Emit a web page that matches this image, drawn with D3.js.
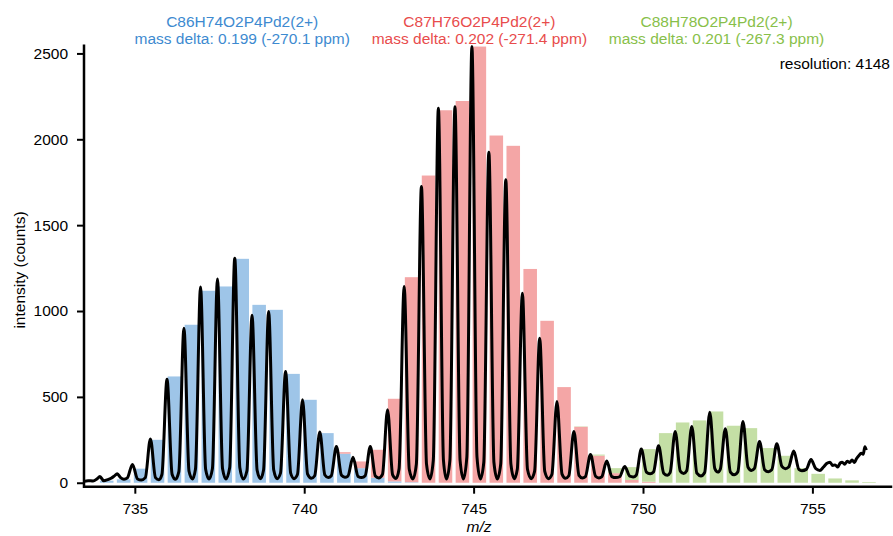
<!DOCTYPE html>
<html>
<head>
<meta charset="utf-8">
<script src="https://cdn.jsdelivr.net/npm/d3@7"></script>
<style>
  body { margin: 0; background: #fff; }
  svg text { font-family: "Liberation Sans", Arial, Helvetica, sans-serif; }
</style>
</head>
<body>
<div id="chart"></div>
<script>
// Isotope pattern bars (m/z of each bar, 2+ so ~0.5 apart)
const barMz = [734.17, 734.67, 735.17, 735.67, 736.17, 736.67, 737.17, 737.67, 738.17, 738.67,
  739.17, 739.67, 740.17, 740.67, 741.17, 741.67, 742.17, 742.67, 743.17, 743.67,
  744.17, 744.67, 745.17, 745.67, 746.17, 746.67, 747.17, 747.67, 748.17, 748.67,
  749.17, 749.67, 750.17, 750.67, 751.17, 751.67, 752.17, 752.67, 753.17, 753.67,
  754.17, 754.67, 755.17, 755.67, 756.17, 756.67];

// fitted counts per formula (stacked blue -> red -> green)
const blueCounts = [12, 20, 82, 250, 619, 920, 1118, 1143, 1304, 1036,
  1007, 634, 483, 289, 169, 85, 29, 8, 3, 0,
  0, 0, 0, 0, 0, 0, 0, 0, 0, 0,
  0, 0, 0, 0, 0, 0, 0, 0, 0, 0,
  0, 0, 0, 0, 0, 0];
const redCounts = [0, 0, 0, 0, 0, 0, 0, 0, 0, 0,
  0, 0, 0, 0, 9, 39, 163, 481, 1194, 1789,
  2169, 2223, 2540, 2022, 1962, 1245, 943, 557, 326, 158,
  56, 16, 6, 0, 0, 0, 0, 0, 0, 0,
  0, 0, 0, 0, 0, 0];
const greenCounts = [0, 0, 0, 0, 0, 0, 0, 0, 0, 0,
  0, 0, 0, 0, 0, 0, 0, 0, 0, 0,
  0, 0, 0, 0, 0, 0, 0, 0, 2, 6,
  29, 75, 190, 289, 351, 363, 415, 332, 318, 202,
  157, 85, 52, 25, 14, 4];

// measured profile spectrum [m/z, counts]
const spectrum = [
  [733.50, 8], [733.62, 12], [733.77, 10], [733.88, 22], [733.97, 36], [734.08, 12],
  [734.20, 18], [734.30, 26], [734.40, 40], [734.48, 52], [734.58, 30], [734.68, 20],
  [734.78, 28], [734.93, 107], [735.08, 22], [735.19, 16],
  [735.31, 30], [735.46, 255], [735.61, 30], [735.71, 18],
  [735.80, 48], [735.95, 603], [736.10, 50], [736.20, 20],
  [736.30, 65], [736.45, 900], [736.60, 67], [736.70, 22],
  [736.79, 79], [736.94, 1140], [737.09, 79], [737.19, 22],
  [737.29, 81], [737.44, 1187], [737.59, 81], [737.69, 22],
  [737.80, 87], [737.95, 1308], [738.10, 87], [738.20, 22],
  [738.31, 71], [738.46, 975], [738.61, 73], [738.71, 24],
  [738.80, 74], [738.95, 997], [739.10, 74], [739.20, 24],
  [739.30, 56], [739.45, 648], [739.60, 56], [739.70, 24],
  [739.80, 48], [739.95, 483], [740.10, 50], [740.21, 26],
  [740.31, 41], [740.46, 295], [740.61, 45], [740.71, 30],
  [740.80, 41], [740.95, 211], [741.10, 43], [741.20, 32],
  [741.29, 39], [741.44, 148], [741.59, 37], [741.70, 30],
  [741.80, 41], [741.95, 211], [742.10, 39], [742.20, 28],
  [742.31, 49], [742.46, 425], [742.61, 46], [742.71, 25],
  [742.80, 82], [742.95, 1143], [743.10, 79], [743.21, 22],
  [743.31, 108], [743.46, 1725], [743.61, 108], [743.71, 22],
  [743.81, 131], [743.96, 2181], [744.11, 131], [744.20, 22],
  [744.30, 132], [744.45, 2190], [744.60, 132], [744.70, 22],
  [744.80, 149], [744.95, 2540], [745.10, 149], [745.20, 22],
  [745.30, 118], [745.45, 1925], [745.60, 118], [745.70, 22],
  [745.80, 110], [745.95, 1764], [746.10, 110], [746.20, 24],
  [746.29, 79], [746.44, 1104], [746.59, 79], [746.70, 24],
  [746.80, 66], [746.95, 842], [747.10, 66], [747.21, 24],
  [747.31, 48], [747.46, 473], [747.61, 50], [747.71, 26],
  [747.81, 41], [747.96, 299], [748.11, 43], [748.21, 28],
  [748.30, 36], [748.45, 165], [748.60, 38], [748.70, 28],
  [748.78, 34], [748.93, 126], [749.08, 36], [749.20, 30],
  [749.31, 35], [749.46, 95], [749.61, 38], [749.71, 34],
  [749.80, 44], [749.95, 196], [750.10, 62], [750.21, 52],
  [750.31, 63], [750.46, 215], [750.61, 56], [750.72, 44],
  [750.80, 59], [750.95, 299], [751.10, 68], [751.20, 54],
  [751.29, 70], [751.44, 328], [751.59, 56], [751.71, 40],
  [751.82, 60], [751.97, 411], [752.12, 82], [752.21, 62],
  [752.28, 78], [752.43, 314], [752.58, 62], [752.69, 46],
  [752.80, 64], [752.95, 357], [753.10, 90], [753.20, 72],
  [753.29, 84], [753.44, 240], [753.59, 76], [753.70, 64],
  [753.80, 75], [753.95, 227], [754.10, 95], [754.20, 82],
  [754.30, 92], [754.45, 185], [754.60, 78], [754.69, 70],
  [754.82, 78], [754.96, 135], [755.10, 82], [755.22, 72],
  [755.32, 90], [755.42, 112], [755.52, 120], [755.60, 100], [755.67, 104],
  [755.75, 92], [755.82, 115], [755.88, 120], [755.95, 108], [756.03, 125],
  [756.10, 118], [756.17, 132], [756.24, 118], [756.30, 140], [756.37, 158],
  [756.44, 172], [756.50, 166], [756.55, 210], [756.59, 190]
];

const seriesKeys = ["blue", "red", "green"];
const seriesColors = ["#3d8ad0", "#e84c4c", "#88bf4a"];
const formulas = ["C86H74O2P4Pd2(2+)", "C87H76O2P4Pd2(2+)", "C88H78O2P4Pd2(2+)"];
const massDeltas = ["mass delta: 0.199 (-270.1 ppm)", "mass delta: 0.202 (-271.4 ppm)", "mass delta: 0.201 (-267.3 ppm)"];
const resolutionText = "resolution: 4148";
const xTicks = [735, 740, 745, 750, 755];
const yTicks = [0, 500, 1000, 1500, 2000, 2500];

// Dimensions
const W = 893, H = 536;
const plotLeft = 84, plotRight = 891, plotTop = 45.7, plotBottom = 486.7;
const fontSize = 15.5;

const svg = d3.select("#chart")
  .append("svg")
  .attr("width", W)
  .attr("height", H);

// Scales
const x = d3.scaleLinear().domain([733.5, 757.32]).range([plotLeft, plotRight]);
const y = d3.scaleLinear().domain([-23, 2545]).range([plotBottom, plotTop]);

// Stacked bars
const rows = barMz.map((mz, i) => ({ mz: mz, blue: blueCounts[i], red: redCounts[i], green: greenCounts[i] }));
const stacked = d3.stack().keys(seriesKeys)(rows);
const color = d3.scaleOrdinal().domain(seriesKeys).range(seriesColors);
const halfBar = 0.2;

stacked.forEach(layer => {
  svg.append("g")
    .selectAll("rect")
    .data(layer.filter(d => d[1] > d[0]))
    .enter()
    .append("rect")
    .attr("x", d => x(d.data.mz - halfBar))
    .attr("width", d => x(d.data.mz + halfBar) - x(d.data.mz - halfBar))
    .attr("y", d => y(d[1]))
    .attr("height", d => y(d[0]) - y(d[1]))
    .attr("fill", d3.interpolateRgb("#ffffff", color(layer.key))(0.5));
});

// Spectrum line
const line = d3.line()
  .x(d => x(d[0]))
  .y(d => y(d[1]))
  .curve(d3.curveMonotoneX);

svg.append("path")
  .datum(spectrum)
  .attr("fill", "none")
  .attr("stroke", "#000")
  .attr("stroke-width", 3)
  .attr("stroke-linejoin", "round")
  .attr("d", line);

// Axes
const yAxis = svg.append("g")
  .attr("transform", `translate(${plotLeft},0)`)
  .call(d3.axisLeft(y).tickValues(yTicks).tickFormat(d3.format("d"))
    .tickSize(7).tickPadding(9).tickSizeOuter(0));
const xAxis = svg.append("g")
  .attr("transform", `translate(0,${plotBottom})`)
  .call(d3.axisBottom(x).tickValues(xTicks).tickFormat(d3.format("d"))
    .tickSize(7).tickPadding(9).tickSizeOuter(0));

[xAxis, yAxis].forEach(g => {
  g.select(".domain").remove();
  g.selectAll(".tick line").attr("stroke", "#000").attr("stroke-width", 2);
  g.selectAll(".tick text")
    .attr("fill", "#000")
    .style("font-size", fontSize + "px")
    .style("font-family", '"Liberation Sans", Arial, sans-serif');
});

// spines
svg.append("path")
  .attr("d", `M${plotLeft},${plotTop}V${plotBottom}H${plotRight}`)
  .attr("fill", "none")
  .attr("stroke", "#000")
  .attr("stroke-width", 2.5)
  .attr("stroke-linecap", "square");

// Axis labels
svg.append("text")
  .attr("transform", `translate(25,270) rotate(-90)`)
  .attr("text-anchor", "middle")
  .style("font-size", fontSize + "px")
  .attr("fill", "#000")
  .text("intensity (counts)");

svg.append("text")
  .attr("x", 479)
  .attr("y", 531.5)
  .attr("text-anchor", "middle")
  .style("font-size", fontSize + "px")
  .style("font-style", "italic")
  .attr("fill", "#000")
  .text("m/z");

// Formula labels above the tallest bar of each pattern
const seriesCounts = [blueCounts, redCounts, greenCounts];
seriesCounts.forEach((counts, i) => {
  const peakMz = barMz[d3.maxIndex(counts)];
  const label = svg.append("text")
    .attr("text-anchor", "middle")
    .attr("fill", seriesColors[i])
    .style("font-size", fontSize + "px");
  label.append("tspan").attr("x", x(peakMz)).attr("y", 26.5).text(formulas[i]);
  label.append("tspan").attr("x", x(peakMz)).attr("y", 43.5).text(massDeltas[i]);
});

svg.append("text")
  .attr("x", 890)
  .attr("y", 68.5)
  .attr("text-anchor", "end")
  .attr("fill", "#000")
  .style("font-size", fontSize + "px")
  .text(resolutionText);
</script>
</body>
</html>
